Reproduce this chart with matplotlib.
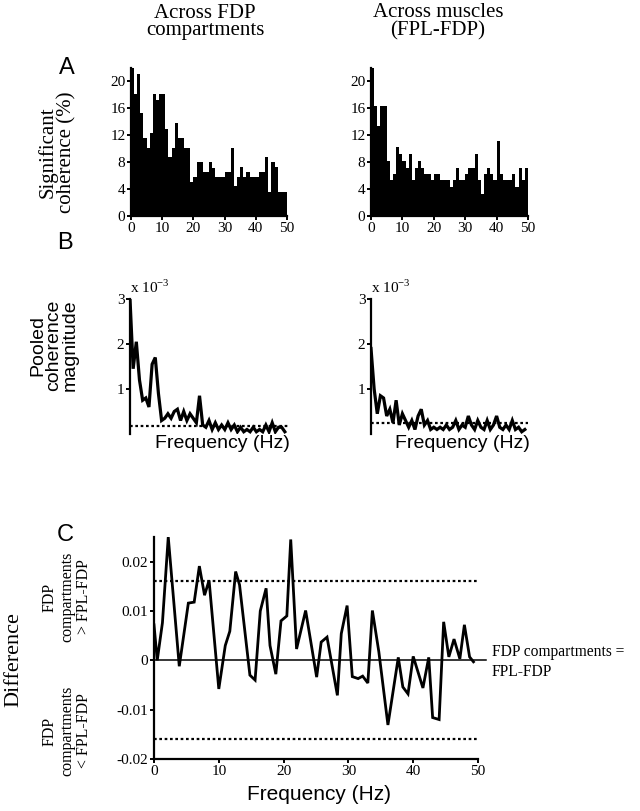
import matplotlib
matplotlib.use("Agg")
import matplotlib.pyplot as plt
import numpy as np

SERIF = ["Liberation Serif", "DejaVu Serif"]
SANS = ["Liberation Sans", "DejaVu Sans"]

# ---------------- data ----------------
hist_bins = list(range(50))  # 1-Hz bins, 0..49 Hz
sig_fdp = [22, 18.2, 21.1, 15.3, 11.6, 10.1, 12.3, 18.2, 17.3, 18.2,
           18.2, 13.0, 8.7, 10.1, 13.8, 11.6, 11.6, 10.1, 10.1, 5.0,
           5.8, 8.0, 8.0, 6.6, 6.6, 8.0, 7.2, 5.8, 5.8, 5.8,
           6.6, 6.6, 10.1, 4.4, 5.8, 7.3, 5.8, 6.6, 5.8, 5.8,
           5.8, 6.6, 6.6, 8.8, 3.6, 8.0, 7.3, 3.6, 3.6, 3.6]
sig_fpl = [22, 16.4, 13.4, 16.4, 16.4, 8.2, 5.3, 6.3, 10.2, 9.2,
           8.2, 7.2, 9.2, 5.3, 7.2, 8.2, 7.2, 6.3, 6.3, 5.3,
           6.3, 6.3, 5.3, 5.3, 5.3, 4.3, 5.3, 7.2, 5.3, 5.3,
           6.3, 7.2, 7.2, 9.2, 5.3, 3.3, 6.3, 7.2, 6.3, 5.3,
           11.2, 6.3, 5.3, 5.3, 5.3, 6.3, 4.3, 7.2, 5.3, 7.2]

pooled_freq = list(range(50))
pooled_fdp = [3.0, 1.45, 2.05, 1.2, 0.75, 0.8, 0.6, 1.55, 1.7, 0.9,
              0.3, 0.35, 0.45, 0.35, 0.5, 0.55, 0.3, 0.5, 0.3, 0.45,
              0.35, 0.25, 0.85, 0.2, 0.15, 0.3, 0.1, 0.25, 0.1, 0.2,
              0.1, 0.25, 0.1, 0.2, 0.05, 0.15, 0.05, 0.1, 0.05, 0.15,
              0.05, 0.1, 0.05, 0.2, 0.05, 0.25, 0.05, 0.15, 0.15, 0.05]
pooled_fpl = [1.9, 1.0, 0.45, 0.85, 0.8, 0.4, 0.55, 0.25, 0.75, 0.2,
              0.45, 0.3, 0.15, 0.3, 0.1, 0.4, 0.55, 0.2, 0.3, 0.1,
              0.15, 0.1, 0.15, 0.1, 0.2, 0.1, 0.15, 0.3, 0.1, 0.2,
              0.15, 0.4, 0.2, 0.1, 0.3, 0.15, 0.1, 0.3, 0.1, 0.2,
              0.4, 0.15, 0.1, 0.2, 0.1, 0.3, 0.1, 0.15, 0.05, 0.1]
pooled_thr_fdp = 0.17
pooled_thr_fpl = 0.25

diff_freq = [0, 0.5, 1.3, 2.2, 3.9, 5.3, 6.2, 7.0, 7.8, 8.5,
             10.0, 11.0, 11.7, 12.6, 13.2, 14.8, 15.6, 16.4, 17.3, 17.9,
             18.8, 19.6, 20.5, 21.1, 22.0, 23.4, 25.1, 25.8, 26.7, 28.3,
             28.9, 29.8, 30.6, 31.5, 32.2, 33.0, 33.7, 34.7, 36.1, 37.7,
             38.4, 39.2, 40.0, 41.5, 42.4, 43.0, 44.0, 44.7, 45.5, 46.3,
             47.2, 47.9, 48.7, 49.3]
diff_val = [0.0072, 0.0, 0.0076, 0.025, -0.0012, 0.0116, 0.0118, 0.0191, 0.0132, 0.0162,
            -0.0058, 0.003, 0.0059, 0.018, 0.0153, -0.003, -0.004, 0.01, 0.0146, 0.003,
            -0.0028, 0.008, 0.009, 0.0245, 0.0023, 0.0101, -0.0034, 0.0037, 0.0047, -0.0071,
            0.0054, 0.0111, -0.0033, -0.0037, -0.0032, -0.0046, 0.0101, 0.0017, -0.0131, 0.0006,
            -0.0054, -0.0068, 0.0008, -0.0056, 0.0006, -0.0116, -0.012, 0.0078, 0.0007, 0.0043,
            0.0003, 0.0072, 0.0007, -0.0003]
diff_thr = 0.016

# ---------------- figure ----------------
W, H = 640, 811
fig = plt.figure(figsize=(6.4, 8.11), dpi=100)

def ax_px(x0, x1, ytop, ybot):
    return fig.add_axes([x0 / W, 1 - ybot / H, (x1 - x0) / W, (ybot - ytop) / H])

def style(ax, bottom=True):
    for s in ["top", "right"]:
        ax.spines[s].set_visible(False)
    ax.spines["left"].set_linewidth(1.6)
    ax.spines["bottom"].set_linewidth(1.6)
    ax.tick_params(direction="out", width=1.4, length=3, labelsize=11, pad=1)
    for lab in ax.get_xticklabels() + ax.get_yticklabels():
        lab.set_family(SERIF)
    if not bottom:
        ax.spines["bottom"].set_visible(False)
        ax.tick_params(axis="x", bottom=False, labelbottom=False)

def ftext(x, y, s, **kw):
    fig.text(x / W, 1 - y / H, s, **kw)

# Panel A
for (x0, x1, vals) in [(131, 287, sig_fdp), (371, 528, sig_fpl)]:
    ax = ax_px(x0, x1, 68, 216)
    ax.bar(hist_bins, vals, width=1.0, align="edge", color="black", edgecolor="none")
    ax.set_xlim(0, 50)
    ax.set_ylim(0, 22)
    ax.set_yticks([0, 4, 8, 12, 16, 20])
    ax.set_xticks([0, 10, 20, 30, 40, 50])
    style(ax)

# Panel B
for (x0, x1, vals, thr) in [(130, 288, pooled_fdp, pooled_thr_fdp),
                            (371, 528, pooled_fpl, pooled_thr_fpl)]:
    ax = ax_px(x0, x1, 299, 434)
    ax.plot(pooled_freq, vals, color="black", lw=2.3, solid_joinstyle="miter")
    ax.axhline(thr, color="black", lw=1.6, ls=(0, (1.2, 1.2)))
    ax.set_xlim(0, 50)
    ax.set_ylim(0, 3)
    ax.set_yticks([1, 2, 3])
    style(ax, bottom=False)
    ax.text(0.0, 1.02, r"x 10$^{\mathregular{-3}}$", transform=ax.transAxes,
            family=SERIF, fontsize=11, ha="left", va="bottom")

# Panel C
ax = ax_px(154, 478, 537, 759)
ax.plot(diff_freq, diff_val, color="black", lw=2.0, solid_joinstyle="miter")
ax.plot([0, 51.2], [0, 0], color="black", lw=1.1, clip_on=False)
ax.axhline(diff_thr, color="black", lw=1.6, ls=(0, (1.2, 1.2)))
ax.axhline(-diff_thr, color="black", lw=1.6, ls=(0, (1.2, 1.2)))
ax.set_xlim(0, 50)
ax.set_ylim(-0.02, 0.025)
ax.set_yticks([-0.02, -0.01, 0, 0.01, 0.02])
ax.set_yticklabels(["-0.02", "-0.01", "0", "0.01", "0.02"])
ax.set_xticks([0, 10, 20, 30, 40, 50])
style(ax)

# texts
ftext(205, 22, "Across FDP\ncompartments", family=SERIF, fontsize=15, ha="center", va="center", linespacing=0.92)
ftext(438, 22, "Across muscles\n(FPL-FDP)", family=SERIF, fontsize=15, ha="center", va="center", linespacing=0.92)
ftext(67, 68, "A", family=SANS, fontsize=17, ha="center", va="center")
ftext(65, 243, "B", family=SANS, fontsize=17, ha="center", va="center")
ftext(65, 535, "C", family=SANS, fontsize=17, ha="center", va="center")
ftext(57, 152, "Significant\ncoherence (%)", family=SERIF, fontsize=15, ha="center", va="center",
      rotation=90, linespacing=0.95)
ftext(54, 345, "Pooled\ncoherence\nmagnitude", family=SANS, fontsize=14, ha="center", va="center",
      rotation=90, linespacing=0.95)
ftext(222, 443, "Frequency (Hz)", family=SANS, fontsize=14, ha="center", va="center")
ftext(462, 443, "Frequency (Hz)", family=SANS, fontsize=14, ha="center", va="center")
ftext(319, 795, "Frequency (Hz)", family=SANS, fontsize=15, ha="center", va="center")
ftext(14, 660, "Difference", family=SERIF, fontsize=16, ha="center", va="center", rotation=90)
ftext(67, 597, "FDP\ncompartments\n> FPL-FDP", family=SERIF, fontsize=11.5, ha="center", va="center",
      rotation=90, linespacing=1.1)
ftext(67, 731, "FDP\ncompartments\n< FPL-FDP", family=SERIF, fontsize=11.5, ha="center", va="center",
      rotation=90, linespacing=1.1)
ftext(492, 662, "FDP compartments =\nFPL-FDP", family=SERIF, fontsize=11.2, ha="left", va="center",
      linespacing=1.25)

fig.savefig("out.png", dpi=100)
